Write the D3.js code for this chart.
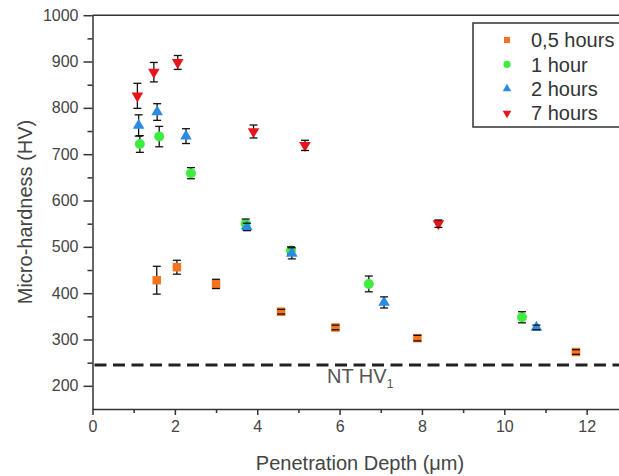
<!DOCTYPE html>
<html>
<head>
<meta charset="utf-8">
<script src="https://cdn.jsdelivr.net/npm/d3@7"></script>
<style>
  body { margin: 0; background: #fff; }
  text { font-family: Arial, "Liberation Sans", sans-serif; }
</style>
</head>
<body>
<div class="hardness"></div>
<script>
(function () {
  // series: depth (um), hardness (HV), error (HV)
  var halfHourDepth = [1.56, 2.05, 3.00, 4.58, 5.90, 7.89, 11.74];
  var halfHourHV    = [428, 456, 420, 360, 326, 303, 273];
  var halfHourErr   = [30, 15, 10, 5, 5, 6, 5];

  var oneHourDepth = [1.15, 1.62, 2.39, 3.72, 4.82, 6.71, 10.43];
  var oneHourHV    = [722, 738, 659, 550, 492, 420, 348];
  var oneHourErr   = [18, 22, 12, 10, 8, 17, 12];

  var twoHourDepth = [1.12, 1.57, 2.27, 3.75, 4.84, 7.08, 10.78];
  var twoHourHV    = [762, 791, 739, 543, 486, 380, 326];
  var twoHourErr   = [23, 18, 16, 8, 12, 12, 5];

  var sevenHourDepth = [1.09, 1.49, 2.07, 3.91, 5.16, 8.40];
  var sevenHourHV    = [826, 877, 898, 749, 719, 550];
  var sevenHourErr   = [27, 21, 15, 14, 11, 8];

  var seriesNames = ['0,5 hours', '1 hour', '2 hours', '7 hours'];
  var ntHV = 245;
  var xTicks = [0, 2, 4, 6, 8, 10, 12];
  var xMinor = [1, 3, 5, 7, 9, 11];
  var yTicks = [200, 300, 400, 500, 600, 700, 800, 900, 1000];
  var yMinor = [250, 350, 450, 550, 650, 750, 850, 950];

  var zip = function (xs, ys, es) {
    return xs.map(function (x, i) { return {x: x, y: ys[i], e: es[i]}; });
  };

  var series = [
    {name: seriesNames[0], color: '#f5741f', shape: 'square', values: zip(halfHourDepth, halfHourHV, halfHourErr)},
    {name: seriesNames[1], color: '#3eec3e', shape: 'circle', values: zip(oneHourDepth, oneHourHV, oneHourErr)},
    {name: seriesNames[2], color: '#2b8be4', shape: 'up', values: zip(twoHourDepth, twoHourHV, twoHourErr)},
    {name: seriesNames[3], color: '#e8141a', shape: 'down', values: zip(sevenHourDepth, sevenHourHV, sevenHourErr)}
  ];

  var svg = d3.select('.hardness').append('svg')
    .attr('width', 619)
    .attr('height', 476);

  var left = 92.5, top = 15.2, bottom = 409;
  var x = d3.scaleLinear()
    .domain([0, 13])
    .range([left, left + 13 * 41.18]);
  var y = d3.scaleLinear()
    .domain([150, 1000])
    .range([bottom, top]);

  var axisColor = '#333';
  var labelColor = '#444';

  // frame top line
  svg.append('line')
    .attr('x1', left).attr('x2', 640)
    .attr('y1', top).attr('y2', top)
    .attr('stroke', axisColor)
    .attr('stroke-width', 1.5);

  // axes
  svg.append('g')
    .attr('transform', 'translate(0,' + bottom + ')')
    .call(d3.axisBottom(x).tickValues(xTicks).tickSize(6).tickPadding(6).tickSizeOuter(0).tickFormat(d3.format('d')));
  svg.append('g')
    .attr('transform', 'translate(0,' + bottom + ')')
    .call(d3.axisBottom(x).tickValues(xMinor).tickSize(4).tickFormat('').tickSizeOuter(0))
    .select('.domain').remove();

  svg.append('g')
    .attr('transform', 'translate(' + left + ',0)')
    .call(d3.axisLeft(y).tickValues(yTicks).tickSize(9).tickPadding(5).tickSizeOuter(0).tickFormat(d3.format('d')));
  svg.append('g')
    .attr('transform', 'translate(' + left + ',0)')
    .call(d3.axisLeft(y).tickValues(yMinor).tickSize(5).tickFormat('').tickSizeOuter(0))
    .select('.domain').remove();

  svg.selectAll('.domain, .tick line')
    .attr('stroke', axisColor)
    .attr('stroke-width', 1.5);
  svg.selectAll('.tick text')
    .attr('fill', labelColor)
    .attr('font-size', '16px')
    .style('font-family', 'Arial, "Liberation Sans", sans-serif');

  // axis titles
  svg.append('text')
    .attr('transform', 'rotate(-90)')
    .attr('x', -212)
    .attr('y', 32)
    .attr('font-size', '20px')
    .attr('fill', labelColor)
    .style('text-anchor', 'middle')
    .text('Micro-hardness (HV)');
  svg.append('text')
    .attr('x', 360)
    .attr('y', 470)
    .attr('font-size', '20px')
    .attr('fill', labelColor)
    .style('text-anchor', 'middle')
    .text('Penetration Depth (\u03BCm)');

  // NT baseline
  svg.append('line')
    .attr('x1', left + 2).attr('x2', 619)
    .attr('y1', y(ntHV)).attr('y2', y(ntHV))
    .attr('stroke', '#222')
    .attr('stroke-width', 3)
    .attr('stroke-dasharray', '12, 6.5');
  var nt = svg.append('text')
    .attr('x', 327)
    .attr('y', 383)
    .attr('font-size', '20px')
    .attr('fill', '#555');
  nt.append('tspan').text('NT HV');
  nt.append('tspan').attr('font-size', '12px').attr('dy', 5).text('1');

  var symbolPath = function (shape, size) {
    if (shape === 'square') return d3.symbol(d3.symbolSquare, size)();
    if (shape === 'circle') return d3.symbol(d3.symbolCircle, size)();
    return d3.symbol(d3.symbolTriangle, size)();
  };
  var markerTransform = function (shape, px, py) {
    return 'translate(' + px + ',' + py + ')' + (shape === 'down' ? ' rotate(180)' : '');
  };
  var markerSize = {square: 72, circle: 78, up: 58, down: 58};

  var groups = svg.selectAll('.series')
    .data(series)
    .enter().append('g')
    .attr('class', 'series');

  // error bar stems below markers
  groups.selectAll('.stem')
    .data(function (d) { return d.values; })
    .enter().append('line')
    .attr('class', 'stem')
    .attr('x1', function (d) { return x(d.x); })
    .attr('x2', function (d) { return x(d.x); })
    .attr('y1', function (d) { return y(d.y + d.e); })
    .attr('y2', function (d) { return y(d.y - d.e); })
    .attr('stroke', '#111')
    .attr('stroke-width', 1.3);

  groups.each(function (s) {
    d3.select(this).selectAll('.dot')
      .data(s.values)
      .enter().append('path')
      .attr('class', 'dot')
      .attr('d', symbolPath(s.shape, markerSize[s.shape]))
      .attr('transform', function (d) { return markerTransform(s.shape, x(d.x), y(d.y)); })
      .attr('fill', s.color);
  });

  // caps on top
  groups.each(function (s) {
    var g = d3.select(this);
    [1, -1].forEach(function (sign) {
      g.selectAll('.cap' + sign)
        .data(s.values)
        .enter().append('line')
        .attr('x1', function (d) { return x(d.x) - 4; })
        .attr('x2', function (d) { return x(d.x) + 4; })
        .attr('y1', function (d) { return y(d.y + sign * d.e); })
        .attr('y2', function (d) { return y(d.y + sign * d.e); })
        .attr('stroke', '#111')
        .attr('stroke-width', 1.3);
    });
  });

  // legend
  var legend = svg.append('g').attr('transform', 'translate(473,23)');
  legend.append('rect')
    .attr('width', 200)
    .attr('height', 104)
    .attr('fill', '#fff')
    .attr('stroke', axisColor)
    .attr('stroke-width', 1.5);
  var legendSize = {square: 36, circle: 40, up: 32, down: 32};
  var item = legend.selectAll('.item')
    .data(series)
    .enter().append('g')
    .attr('class', 'item')
    .attr('transform', function (d, i) { return 'translate(0,' + (17 + i * 24.4) + ')'; });
  item.append('path')
    .attr('d', function (d) { return symbolPath(d.shape, legendSize[d.shape]); })
    .attr('transform', function (d) { return markerTransform(d.shape, 34, 0); })
    .attr('fill', function (d) { return d.color; });
  item.append('text')
    .attr('x', 58)
    .attr('dy', '0.36em')
    .attr('font-size', '20px')
    .attr('fill', '#333')
    .text(function (d) { return d.name; });
})();
</script>
</body>
</html>
